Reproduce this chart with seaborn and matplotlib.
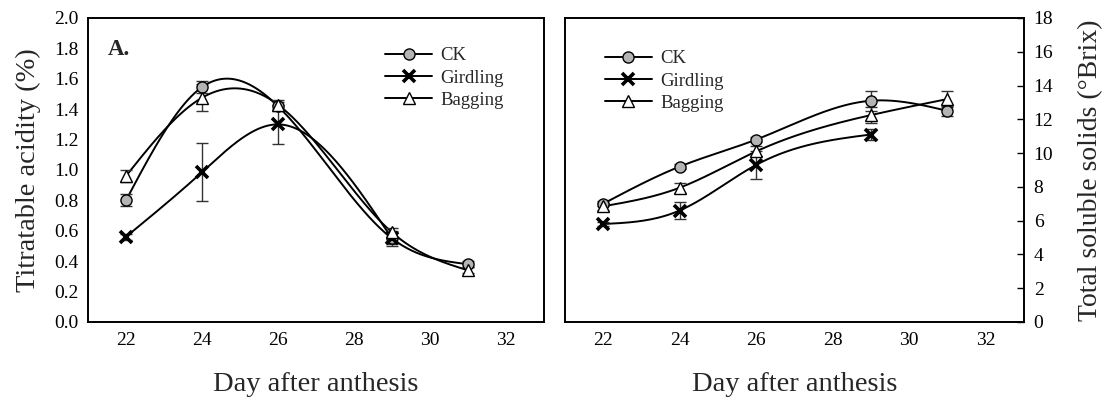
import numpy as np
import pandas as pd
import matplotlib
matplotlib.use("Agg")
import matplotlib.pyplot as plt
import seaborn as sns
from matplotlib.lines import Line2D

# ---- data ----
days = [22, 24, 26, 29, 31]
days_g = [22, 24, 26, 29]

ta_ck = [0.80, 1.545, 1.42, 0.55, 0.38]
ta_ck_err = [0.04, 0.04, 0.03, 0.05, 0.02]
ta_gird = [0.56, 0.985, 1.30, 0.55]
ta_gird_err = [0.02, 0.19, 0.13, 0.04]
ta_bag = [0.96, 1.475, 1.43, 0.59, 0.34]
ta_bag_err = [0.04, 0.09, 0.03, 0.03, 0.02]

tss_ck = [7.0, 9.2, 10.8, 13.1, 12.5]
tss_ck_err = [0.15, 0.15, 0.15, 0.6, 0.3]
tss_gird = [5.8, 6.6, 9.3, 11.1]
tss_gird_err = [0.1, 0.5, 0.85, 0.3]
tss_bag = [6.85, 7.95, 10.1, 12.25, 13.2]
tss_bag_err = [0.2, 0.3, 0.3, 0.45, 0.45]

series_names = ["CK", "Girdling", "Bagging"]
x_ticks = [22, 24, 26, 28, 30, 32]

# ---- styling ----
sns.set_theme(style="white")
plt.rcParams["font.family"] = ["Liberation Serif", "DejaVu Serif"]
plt.rcParams["mathtext.fontset"] = "stix"

styles = {
    "CK": dict(marker="o", mfc="#b4b4b4", mec="black", ms=8, mew=1.0),
    "Girdling": dict(marker="x", mfc="black", mec="black", ms=9, mew=2.6),
    "Bagging": dict(marker="^", mfc="white", mec="black", ms=9, mew=1.0),
}


def natural_spline(x, y, n=300):
    x = np.asarray(x, float)
    y = np.asarray(y, float)
    k = len(x)
    h = np.diff(x)
    A = np.zeros((k, k))
    b = np.zeros(k)
    A[0, 0] = 1
    A[-1, -1] = 1
    for i in range(1, k - 1):
        A[i, i - 1] = h[i - 1]
        A[i, i] = 2 * (h[i - 1] + h[i])
        A[i, i + 1] = h[i]
        b[i] = 6 * ((y[i + 1] - y[i]) / h[i] - (y[i] - y[i - 1]) / h[i - 1])
    M = np.linalg.solve(A, b)
    xs = np.linspace(x[0], x[-1], n)
    idx = np.clip(np.searchsorted(x, xs) - 1, 0, k - 2)
    x0, x1 = x[idx], x[idx + 1]
    hh = x1 - x0
    ys = (M[idx] * (x1 - xs) ** 3 / (6 * hh) + M[idx + 1] * (xs - x0) ** 3 / (6 * hh)
          + (y[idx] / hh - M[idx] * hh / 6) * (x1 - xs)
          + (y[idx + 1] / hh - M[idx + 1] * hh / 6) * (xs - x0))
    return xs, ys


def draw_panel(ax, data):
    for name, (xv, yv, ev) in data.items():
        xs, ys = natural_spline(xv, yv)
        sns.lineplot(x=xs, y=ys, ax=ax, color="black", lw=1.4, sort=False,
                     legend=False, zorder=2)
        ax.errorbar(xv, yv, yerr=ev, fmt="none", ecolor="#333333",
                    elinewidth=1.0, capsize=4, capthick=1.0, zorder=3)
        df = pd.DataFrame({"x": xv, "y": yv})
        st = styles[name]
        ax.plot(df["x"], df["y"], ls="none", zorder=4, **st)
    ax.set_xlim(21, 33)
    ax.set_xticks(x_ticks)
    ax.tick_params(direction="in", length=5, width=1.0, labelsize=14,
                   colors="black", pad=7)
    for s in ax.spines.values():
        s.set_linewidth(1.4)
        s.set_color("black")
    ax.set_xlabel("Day after anthesis", fontsize=20.5, labelpad=17)


def legend_handles():
    hs = []
    for name in series_names:
        hs.append(Line2D([0], [0], color="black", lw=1.4, **styles[name]))
    return hs


fig = plt.figure(figsize=(11.12, 4.05), dpi=100)
ax1 = fig.add_axes([0.0791, 0.205, 0.410, 0.7506])
ax2 = fig.add_axes([0.508, 0.205, 0.4128, 0.7506])

draw_panel(ax1, {
    "CK": (days, ta_ck, ta_ck_err),
    "Girdling": (days_g, ta_gird, ta_gird_err),
    "Bagging": (days, ta_bag, ta_bag_err),
})
ax1.set_ylim(0, 2.0)
ax1.set_yticks(np.arange(0, 2.01, 0.2))
ax1.set_yticklabels([f"{v:.1f}" for v in np.arange(0, 2.01, 0.2)])
ax1.set_ylabel("Titratable acidity (%)", fontsize=20.5, labelpad=9)
ax1.text(0.043, 0.93, "A.", transform=ax1.transAxes, fontsize=16.5,
         fontweight="bold", va="top", ha="left")
ax1.legend(legend_handles(), series_names, loc="upper right",
           bbox_to_anchor=(0.95, 0.96), frameon=False, fontsize=13.5,
           handlelength=2.5, handletextpad=0.45, labelspacing=0.28)

draw_panel(ax2, {
    "CK": (days, tss_ck, tss_ck_err),
    "Girdling": (days_g, tss_gird, tss_gird_err),
    "Bagging": (days, tss_bag, tss_bag_err),
})
ax2.set_ylim(0, 18)
ax2.set_yticks(np.arange(0, 19, 2))
ax2.yaxis.tick_right()
ax2.yaxis.set_label_position("right")
ax2.tick_params(axis="y", right=True, left=False, direction="in")
ax2.set_ylabel("Total soluble solids (°Brix)", fontsize=20, labelpad=18)
ax2.legend(legend_handles(), series_names, loc="upper left",
           bbox_to_anchor=(0.05, 0.95), frameon=False, fontsize=13.5,
           handlelength=2.5, handletextpad=0.45, labelspacing=0.28)

fig.savefig("out.png", dpi=100, facecolor="white")
